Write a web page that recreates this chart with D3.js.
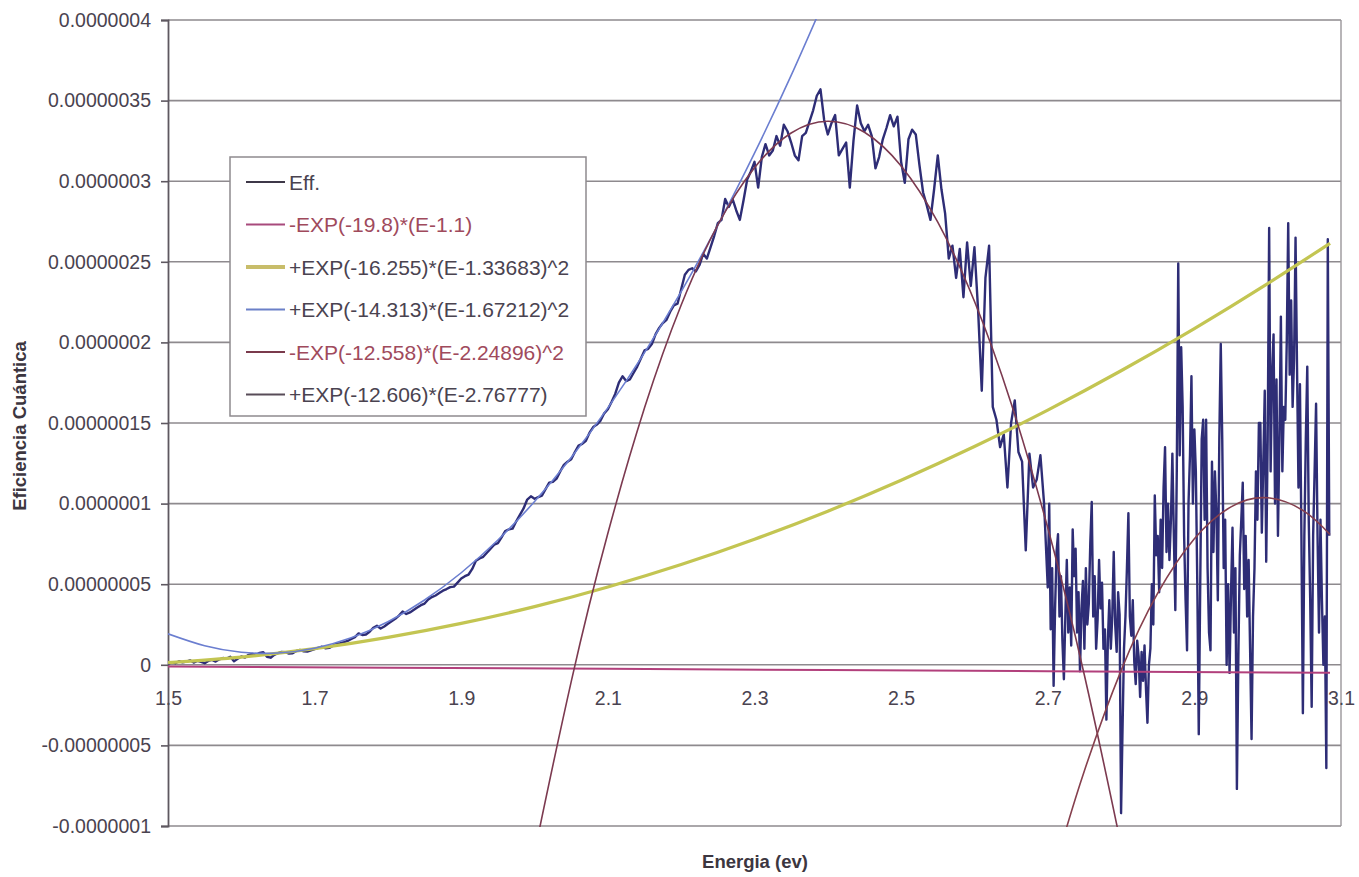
<!DOCTYPE html>
<html>
<head>
<meta charset="utf-8">
<script src="https://cdn.jsdelivr.net/npm/d3@7"></script>
<style>
  html, body { margin: 0; padding: 0; background: #ffffff; }
  svg { display: block; font-family: "Liberation Sans", Arial, Helvetica, sans-serif; }
</style>
</head>
<body>
<svg id="chart" width="1359" height="877"></svg>
<script>
// All series values are stored in units of 1e-8 (quantum efficiency).
const UNIT = 1e-8;

const yTicks = [-1e-7, -5e-8, 0, 5e-8, 1e-7, 1.5e-7, 2e-7, 2.5e-7, 3e-7, 3.5e-7, 4e-7];
const yTickLabels = ["-0.0000001", "-0.00000005", "0", "0.00000005", "0.0000001",
  "0.00000015", "0.0000002", "0.00000025", "0.0000003", "0.00000035", "0.0000004"];
const xTicks = [1.5, 1.7, 1.9, 2.1, 2.3, 2.5, 2.7, 2.9, 3.1];
const xTickLabels = ["1.5", "1.7", "1.9", "2.1", "2.3", "2.5", "2.7", "2.9", "3.1"];

const seriesNames = [
  "Eff.",
  "-EXP(-19.8)*(E-1.1)",
  "+EXP(-16.255)*(E-1.33683)^2",
  "+EXP(-14.313)*(E-1.67212)^2",
  "-EXP(-12.558)*(E-2.24896)^2",
  "+EXP(-12.606)*(E-2.76777)"
];

// Measured efficiency, 1.5 eV to 2.695 eV on a 0.005 eV grid
const effStart = 1.5, effStep = 0.005;
const effLow = [
  0.05, 0.15, 0.10, 0.22, 0.15, 0.20, 0.28, 0.14, 0.24, 0.18,
  0.10, 0.24, 0.30, 0.20, 0.34, 0.42, 0.38, 0.50, 0.22, 0.38,
  0.52, 0.45, 0.62, 0.68, 0.60, 0.74, 0.78, 0.50, 0.44, 0.62,
  0.72, 0.80, 0.78, 0.70, 0.72, 0.86, 0.92, 0.84, 0.82, 0.90,
  0.98, 1.05, 1.12, 1.02, 1.05, 1.18, 1.30, 1.34, 1.40, 1.48,
  1.60, 1.72, 1.95, 1.85, 1.88, 2.05, 2.30, 2.42, 2.25, 2.38,
  2.55, 2.70, 2.85, 3.05, 3.30, 3.15, 3.25, 3.40, 3.55, 3.70,
  3.80, 4.05, 4.20, 4.30, 4.45, 4.60, 4.70, 4.82, 4.85, 5.10,
  5.35, 5.50, 5.60, 5.95, 6.45, 6.60, 6.70, 6.95, 7.20, 7.45,
  7.55, 7.90, 8.30, 8.40, 8.45, 8.90, 9.30, 9.70, 10.25, 10.45,
  10.30, 10.40, 10.50, 10.90, 11.30, 11.35, 11.55, 12.00, 12.40, 12.60,
  12.75, 13.20, 13.60, 13.70, 13.90, 14.40, 14.75, 14.90, 15.15, 15.60,
  15.85, 16.30, 16.80, 17.50, 17.90, 17.60, 17.70, 18.10, 18.50, 19.00,
  19.50, 19.60, 19.90, 20.50, 20.90, 21.20, 21.40, 21.90, 22.30, 22.40,
  23.30, 24.20, 24.50, 24.60, 24.40, 24.80, 25.50, 25.20, 25.90, 26.60,
  27.40, 27.60, 28.90, 28.40, 28.90, 28.20, 27.60, 28.80, 30.10, 30.60,
  31.20, 29.60, 31.50, 32.30, 31.60, 31.90, 32.80, 32.20, 33.50, 33.10,
  32.40, 31.60, 31.30, 32.80, 33.00, 33.70, 34.40, 35.30, 35.70, 33.80,
  32.90, 33.60, 34.10, 31.60, 32.00, 32.40, 29.60, 32.50, 34.70, 33.60,
  33.10, 33.50, 32.80, 30.80, 31.50, 32.60, 33.30, 34.10, 33.40, 34.00,
  31.20, 29.90, 32.60, 33.20, 32.90, 31.00, 29.30, 28.50, 27.60, 29.50,
  31.60, 29.50, 28.00, 25.20, 26.00, 24.00, 25.80, 22.80, 26.20, 23.50,
  25.90, 22.00, 17.00, 24.00, 26.00, 16.00, 15.20, 13.50, 14.30, 11.00,
  15.00, 16.40, 13.20, 12.60, 7.10, 13.10, 11.00, 11.50, 13.00, 10.00
];

// Measured efficiency, 2.700 eV to 3.084 eV on a 0.002 eV grid
const tailStart = 2.7, tailStep = 0.002;
const effTail = [
  4.8, 10.0, 2.2, 6.0, -1.3, 3.5, 7.0, 8.1, 3.0, 5.5,
  1.5, -0.9, 3.0, 6.5, 2.0, 4.8, 1.2, 8.4, 5.5, 7.2,
  2.0, 4.5, -0.4, 3.5, 5.2, 1.0, 6.0, 2.5, 3.8, 7.5,
  10.1, 3.0, 5.5, 1.0, 2.8, 6.5, 3.5, 5.1, 1.0, 2.2,
  -3.4, 1.5, 4.0, 1.0, 3.0, 7.0, 2.5, 0.8, 4.5, 3.1,
  -9.2, -4.0, 1.0, 3.0, 6.0, 9.4, 3.0, 1.8, 4.0, 0.2,
  -1.2, 1.5, 0.5, -2.0, 0.8, -1.0, 1.2, -1.5, -3.6, 0.0,
  1.0, 5.0, 2.5, 10.5, 6.8, 8.0, 4.5, 9.0, 6.0, 11.0,
  13.5, 7.0, 10.0, 6.5, 9.0, 13.1, 8.0, 3.4, 12.0, 24.9,
  13.0, 19.7, 16.0, 8.0, 4.0, 0.9, 10.0, 13.0, 17.9, 10.0,
  14.6, 12.0, 5.0, -4.3, 5.0, 14.0, 15.2, 9.0, 15.2, 6.0,
  2.0, 0.9, 12.6, 7.0, 12.0, 9.5, 4.0, 14.0, 19.9, 14.0,
  6.0, 9.0, 0.0, 5.0, -0.5, 4.5, 8.5, 2.0, 6.0, -7.7,
  0.5, 6.8, 9.0, 11.3, 4.7, 8.0, 3.0, 6.5, 1.0, -4.6,
  3.0, 6.0, 12.0, 9.0, 15.0, 15.0, 8.2, 12.5, 17.0, 6.4,
  14.0, 27.1, 12.0, 18.0, 20.5, 10.0, 17.7, 8.0, 14.0, 21.6,
  12.0, 16.0, 15.2, 20.0, 27.4, 18.0, 22.6, 16.0, 19.0, 26.5,
  18.5, 11.0, 17.4, 8.0, -3.0, 8.0, 14.0, 18.5, 9.0, 4.0,
  -2.6, 8.0, 12.0, 16.2, 8.0, 2.0, 9.0, 4.0, 0.0, 3.0,
  -6.4, 26.4, 8.0
];

// Cumulative fit curves (energy, value)
const fitLinear = [[1.5, -0.10], [1.8, -0.18], [2.1, -0.25], [2.4, -0.33], [2.7, -0.40], [3.085, -0.50]];
const fitQuad1 = [
  [1.5, 0.13], [1.6, 0.48], [1.7, 1.00], [1.8, 1.70], [1.9, 2.57], [2.0, 3.61],
  [2.1, 4.83], [2.2, 6.22], [2.3, 7.79], [2.4, 9.53], [2.5, 11.45], [2.6, 13.54],
  [2.7, 15.80], [2.8, 18.24], [2.9, 20.86], [3.0, 23.65], [3.085, 26.15]
];
const fitQuad2 = [
  [1.5, 1.92], [1.55, 1.18], [1.6, 0.78], [1.65, 0.73], [1.7, 1.03], [1.75, 1.68],
  [1.8, 2.67], [1.85, 4.02], [1.9, 5.71], [1.95, 7.74], [2.0, 10.13], [2.05, 12.86],
  [2.1, 15.94], [2.15, 19.37], [2.2, 23.15], [2.25, 27.27], [2.3, 31.74],
  [2.35, 36.56], [2.4, 41.73]
];
const fitPeak = [
  [1.991, -13.71], [2.0, -11.65], [2.05, -1.04], [2.1, 8.16], [2.15, 15.94],
  [2.2, 22.32], [2.25, 27.29], [2.3, 30.84], [2.35, 32.99], [2.4, 33.72],
  [2.45, 33.04], [2.5, 30.95], [2.55, 27.46], [2.6, 22.55], [2.65, 16.23],
  [2.7, 8.50], [2.75, -0.65], [2.8, -11.20], [2.81, -13.48]
];
const fitTail = [
  [2.72, -10.97], [2.75, -6.57], [2.8, -0.36], [2.85, 4.44], [2.9, 7.82],
  [2.95, 9.80], [3.0, 10.36], [3.05, 9.52], [3.085, 8.08]
];

const lineColors = ["#2e2d76", "#b2407c", "#c3c552", "#6b7ed0", "#7c3a50", "#86404e"];
const legendLineColors = ["#3e3848", "#a84a7c", "#c8bd6a", "#6b80c8", "#7a3a4c", "#584c58"];
const legendTextColors = ["#4a4350", "#a04a5c", "#4a4350", "#4a4350", "#a04a5c", "#4a4350"];

const svg = d3.select("#chart");
const plotLeft = 168, plotRight = 1341, plotTop = 20, plotBottom = 826;

const x = d3.scaleLinear().domain([1.5, 3.1]).range([plotLeft, plotRight]);
const y = d3.scaleLinear().domain([-1e-7, 4e-7]).range([plotBottom, plotTop]);

const textColor = "#4a4350";

// horizontal gridlines
svg.append("g")
  .selectAll("line")
  .data(yTicks)
  .join("line")
  .attr("x1", plotLeft).attr("x2", plotRight)
  .attr("y1", d => y(d)).attr("y2", d => y(d))
  .attr("stroke", "#8e8a8e").attr("stroke-width", 1.6);

// right border
svg.append("line")
  .attr("x1", plotRight).attr("x2", plotRight).attr("y1", plotTop).attr("y2", plotBottom)
  .attr("stroke", "#9a969a").attr("stroke-width", 1.4);

// y axis
const yAxis = d3.axisLeft(y)
  .tickValues(yTicks)
  .tickFormat((d, i) => yTickLabels[i])
  .tickSize(7).tickPadding(10);
const gy = svg.append("g").attr("transform", `translate(${plotLeft},0)`).call(yAxis);
gy.select(".domain").attr("stroke", "#5e5860").attr("stroke-width", 1.8);
gy.selectAll(".tick line").attr("stroke", "#5e5860").attr("stroke-width", 1.6);
gy.selectAll(".tick text")
  .attr("fill", textColor).attr("font-size", "19.5px")
  .attr("font-family", "'Liberation Sans', Arial, sans-serif");

// x axis labels hang below the zero line
const xAxis = d3.axisBottom(x)
  .tickValues(xTicks)
  .tickFormat((d, i) => xTickLabels[i])
  .tickSize(0).tickPadding(26);
const gx = svg.append("g").attr("transform", `translate(0,${y(0)})`).call(xAxis);
gx.select(".domain").remove();
gx.selectAll(".tick text")
  .attr("fill", textColor).attr("font-size", "19.5px")
  .attr("font-family", "'Liberation Sans', Arial, sans-serif");

// axis titles
svg.append("text")
  .attr("transform", `translate(26,426) rotate(-90)`)
  .attr("text-anchor", "middle")
  .attr("font-size", "18.5px").attr("font-weight", "bold")
  .attr("fill", "#3c3640")
  .text("Eficiencia Cuántica");
svg.append("text")
  .attr("x", 755).attr("y", 868)
  .attr("text-anchor", "middle")
  .attr("font-size", "18.5px").attr("font-weight", "bold")
  .attr("fill", "#3c3640")
  .text("Energia (ev)");

// plot clip
svg.append("clipPath").attr("id", "plotClip")
  .append("rect").attr("x", plotLeft).attr("y", plotTop - 1)
  .attr("width", plotRight - plotLeft).attr("height", plotBottom - plotTop + 2);

const plot = svg.append("g").attr("clip-path", "url(#plotClip)");

const effPoints = effLow.map((v, i) => [effStart + i * effStep, v])
  .concat(effTail.map((v, i) => [tailStart + i * tailStep, v]));

const straight = d3.line().x(d => x(d[0])).y(d => y(d[1] * UNIT));
const smooth = d3.line().x(d => x(d[0])).y(d => y(d[1] * UNIT)).curve(d3.curveNatural);

const series = [
  { data: effPoints, gen: straight, width: 2.4 },
  { data: fitLinear, gen: straight, width: 2 },
  { data: fitQuad1, gen: smooth, width: 3.2 },
  { data: fitQuad2, gen: smooth, width: 1.6 },
  { data: fitPeak, gen: smooth, width: 1.6 },
  { data: fitTail, gen: smooth, width: 1.6 }
];

plot.selectAll("path.series")
  .data(series)
  .join("path")
  .attr("class", "series")
  .attr("fill", "none")
  .attr("stroke", (d, i) => lineColors[i])
  .attr("stroke-width", d => d.width)
  .attr("stroke-linejoin", "round")
  .attr("d", d => d.gen(d.data));

// legend
const lg = svg.append("g").attr("transform", "translate(230,157)");
lg.append("rect")
  .attr("width", 356).attr("height", 259)
  .attr("fill", "#ffffff").attr("stroke", "#8e8a8e").attr("stroke-width", 1.5);
const rowH = 42.5;
const rows = lg.selectAll("g.row")
  .data(seriesNames)
  .join("g")
  .attr("class", "row")
  .attr("transform", (d, i) => `translate(0,${25 + i * rowH})`);
rows.append("line")
  .attr("x1", 16).attr("x2", 55)
  .attr("stroke", (d, i) => legendLineColors[i])
  .attr("stroke-width", (d, i) => i === 2 ? 4 : 2.2);
rows.append("text")
  .attr("x", 59).attr("dy", "0.36em")
  .attr("font-size", "21px")
  .attr("fill", (d, i) => legendTextColors[i])
  .text(d => d);
</script>
</body>
</html>
